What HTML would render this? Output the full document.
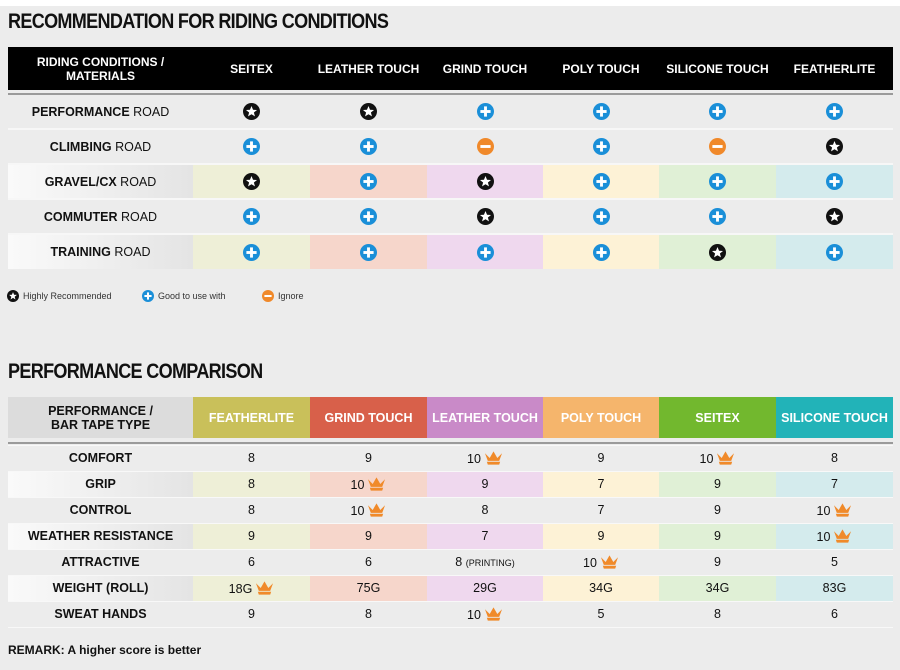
<!DOCTYPE html>
<html><head><meta charset="utf-8">
<style>
*{margin:0;padding:0;box-sizing:border-box}
body{width:900px;height:670px;background:#ececec;font-family:"Liberation Sans",Arial,sans-serif;position:relative;overflow:hidden;color:#111}
.top{position:absolute;left:0;top:0;width:900px;height:6px;background:#fff}
h1{position:absolute;left:8px;font-family:"Liberation Sans",sans-serif;font-weight:bold;font-size:21px;letter-spacing:-0.8px;transform:scaleX(0.86);transform-origin:left;color:#111}
table{position:absolute;left:8px;border-collapse:collapse;table-layout:fixed;width:885px}
td,th{text-align:center;vertical-align:middle;padding:0}
th{font-size:12px;font-weight:bold}
.t1 th{background:#000;color:#fff;height:43px;line-height:14px}
.t1 td{height:35px;border-top:2px solid #f7f7f7;font-size:12.5px}
.t1 tr.line td{height:4px;border:none;background:#ececec;border-bottom:2px solid #9a9a9a}
.lab{font-weight:bold}
.lab span{font-weight:normal}
.c1{background:#eeefd7}.c2{background:#f6d6cb}.c3{background:#efd8ee}.c4{background:#fdf2d6}.c5{background:#e0f0d6}.c6{background:#d4ebed}
.g{background:linear-gradient(90deg,#fafafa,#e4e4e4)}
.t2 th{height:41px;color:#fff;font-size:12.5px;line-height:14px}
.t2 th.h0{background:#dcdcdc;color:#111}
.t2 td{height:26px;border-top:1px solid #f8f8f8;font-size:12.5px}
.t2 tr.line td{height:5px;border:none;border-bottom:2px solid #9a9a9a}
.t2 tr.sp td{height:2px;border:none}
svg.i{width:17px;height:17px;vertical-align:middle}
svg.cr{width:19px;height:14px;vertical-align:-2px;margin-left:3px}
.leg{position:absolute;top:290px;font-size:9px;color:#333;display:flex;align-items:center}
.leg svg{width:12px;height:12px;margin-right:4px}
.rem{position:absolute;left:8px;top:643px;font-size:12px;font-weight:bold}
</style></head><body>
<div class="top"></div>
<svg width="0" height="0" style="position:absolute">
<defs>
<symbol id="s" viewBox="0 0 20 20"><circle cx="10" cy="10" r="10" fill="#111"/><polygon fill="#fff" points="10,3.5 11.8,8 16.5,8.2 12.8,11.2 14.1,15.8 10,13.2 5.9,15.8 7.2,11.2 3.5,8.2 8.2,8"/></symbol>
<symbol id="p" viewBox="0 0 20 20"><circle cx="10" cy="10" r="10" fill="#1a8fd8"/><rect x="8.3" y="4" width="3.4" height="12" fill="#fff"/><rect x="4" y="8.3" width="12" height="3.4" fill="#fff"/></symbol>
<symbol id="m" viewBox="0 0 20 20"><circle cx="10" cy="10" r="10" fill="#f0892a"/><rect x="4" y="8.3" width="12" height="3.4" fill="#fff"/></symbol>
<symbol id="k" viewBox="0 0 20 14"><polygon fill="#f08a2a" points="1,2 6,7 10,0 14,7 19,2 16,10 4,10"/><polygon fill="#f08a2a" points="3,11 17,11 16,14 4,14"/></symbol>
</defs></svg>

<h1 style="top:10px">RECOMMENDATION FOR RIDING CONDITIONS</h1>
<table class="t1" style="top:47px">
<colgroup><col style="width:185px"><col style="width:117px"><col style="width:117px"><col style="width:116px"><col style="width:116px"><col style="width:117px"><col style="width:117px"></colgroup>
<tr><th>RIDING CONDITIONS /<br>MATERIALS</th><th>SEITEX</th><th>LEATHER TOUCH</th><th>GRIND TOUCH</th><th>POLY TOUCH</th><th>SILICONE TOUCH</th><th>FEATHERLITE</th></tr>
<tr class="line"><td colspan="7"></td></tr>
<tr><td class="lab">PERFORMANCE <span>ROAD</span></td><td><svg class="i"><use href="#s"/></svg></td><td><svg class="i"><use href="#s"/></svg></td><td><svg class="i"><use href="#p"/></svg></td><td><svg class="i"><use href="#p"/></svg></td><td><svg class="i"><use href="#p"/></svg></td><td><svg class="i"><use href="#p"/></svg></td></tr>
<tr><td class="lab">CLIMBING <span>ROAD</span></td><td><svg class="i"><use href="#p"/></svg></td><td><svg class="i"><use href="#p"/></svg></td><td><svg class="i"><use href="#m"/></svg></td><td><svg class="i"><use href="#p"/></svg></td><td><svg class="i"><use href="#m"/></svg></td><td><svg class="i"><use href="#s"/></svg></td></tr>
<tr><td class="lab g">GRAVEL/CX <span>ROAD</span></td><td class="c1"><svg class="i"><use href="#s"/></svg></td><td class="c2"><svg class="i"><use href="#p"/></svg></td><td class="c3"><svg class="i"><use href="#s"/></svg></td><td class="c4"><svg class="i"><use href="#p"/></svg></td><td class="c5"><svg class="i"><use href="#p"/></svg></td><td class="c6"><svg class="i"><use href="#p"/></svg></td></tr>
<tr><td class="lab">COMMUTER <span>ROAD</span></td><td><svg class="i"><use href="#p"/></svg></td><td><svg class="i"><use href="#p"/></svg></td><td><svg class="i"><use href="#s"/></svg></td><td><svg class="i"><use href="#p"/></svg></td><td><svg class="i"><use href="#p"/></svg></td><td><svg class="i"><use href="#s"/></svg></td></tr>
<tr><td class="lab g">TRAINING <span>ROAD</span></td><td class="c1"><svg class="i"><use href="#p"/></svg></td><td class="c2"><svg class="i"><use href="#p"/></svg></td><td class="c3"><svg class="i"><use href="#p"/></svg></td><td class="c4"><svg class="i"><use href="#p"/></svg></td><td class="c5"><svg class="i"><use href="#s"/></svg></td><td class="c6"><svg class="i"><use href="#p"/></svg></td></tr>
</table>

<div class="leg" style="left:7px"><svg><use href="#s"/></svg>Highly Recommended</div>
<div class="leg" style="left:142px"><svg><use href="#p"/></svg>Good to use with</div>
<div class="leg" style="left:262px"><svg><use href="#m"/></svg>Ignore</div>

<h1 style="top:360px">PERFORMANCE COMPARISON</h1>
<table class="t2" style="top:397px">
<colgroup><col style="width:185px"><col style="width:117px"><col style="width:117px"><col style="width:116px"><col style="width:116px"><col style="width:117px"><col style="width:117px"></colgroup>
<tr><th class="h0">PERFORMANCE /<br>BAR TAPE TYPE</th><th style="background:#c9c05a">FEATHERLITE</th><th style="background:#d8604a">GRIND TOUCH</th><th style="background:#c98ac8">LEATHER TOUCH</th><th style="background:#f5b56c">POLY TOUCH</th><th style="background:#72b82e">SEITEX</th><th style="background:#22b3b8">SILICONE TOUCH</th></tr>
<tr class="line"><td colspan="7"></td></tr>
<tr class="sp"><td colspan="7"></td></tr>
<tr><td class="lab">COMFORT</td><td>8</td><td>9</td><td>10<svg class="cr"><use href="#k"/></svg></td><td>9</td><td>10<svg class="cr"><use href="#k"/></svg></td><td>8</td></tr>
<tr><td class="lab g">GRIP</td><td class="c1">8</td><td class="c2">10<svg class="cr"><use href="#k"/></svg></td><td class="c3">9</td><td class="c4">7</td><td class="c5">9</td><td class="c6">7</td></tr>
<tr><td class="lab">CONTROL</td><td>8</td><td>10<svg class="cr"><use href="#k"/></svg></td><td>8</td><td>7</td><td>9</td><td>10<svg class="cr"><use href="#k"/></svg></td></tr>
<tr><td class="lab g">WEATHER RESISTANCE</td><td class="c1">9</td><td class="c2">9</td><td class="c3">7</td><td class="c4">9</td><td class="c5">9</td><td class="c6">10<svg class="cr"><use href="#k"/></svg></td></tr>
<tr><td class="lab">ATTRACTIVE</td><td>6</td><td>6</td><td>8 <span style="font-size:9px">(PRINTING)</span></td><td>10<svg class="cr"><use href="#k"/></svg></td><td>9</td><td>5</td></tr>
<tr><td class="lab g">WEIGHT (ROLL)</td><td class="c1">18G<svg class="cr"><use href="#k"/></svg></td><td class="c2">75G</td><td class="c3">29G</td><td class="c4">34G</td><td class="c5">34G</td><td class="c6">83G</td></tr>
<tr><td class="lab" style="border-bottom:1px solid #f8f8f8">SWEAT HANDS</td><td style="border-bottom:1px solid #f8f8f8">9</td><td style="border-bottom:1px solid #f8f8f8">8</td><td style="border-bottom:1px solid #f8f8f8">10<svg class="cr"><use href="#k"/></svg></td><td style="border-bottom:1px solid #f8f8f8">5</td><td style="border-bottom:1px solid #f8f8f8">8</td><td style="border-bottom:1px solid #f8f8f8">6</td></tr>
</table>
<div class="rem">REMARK: A higher score is better</div>
</body></html>
